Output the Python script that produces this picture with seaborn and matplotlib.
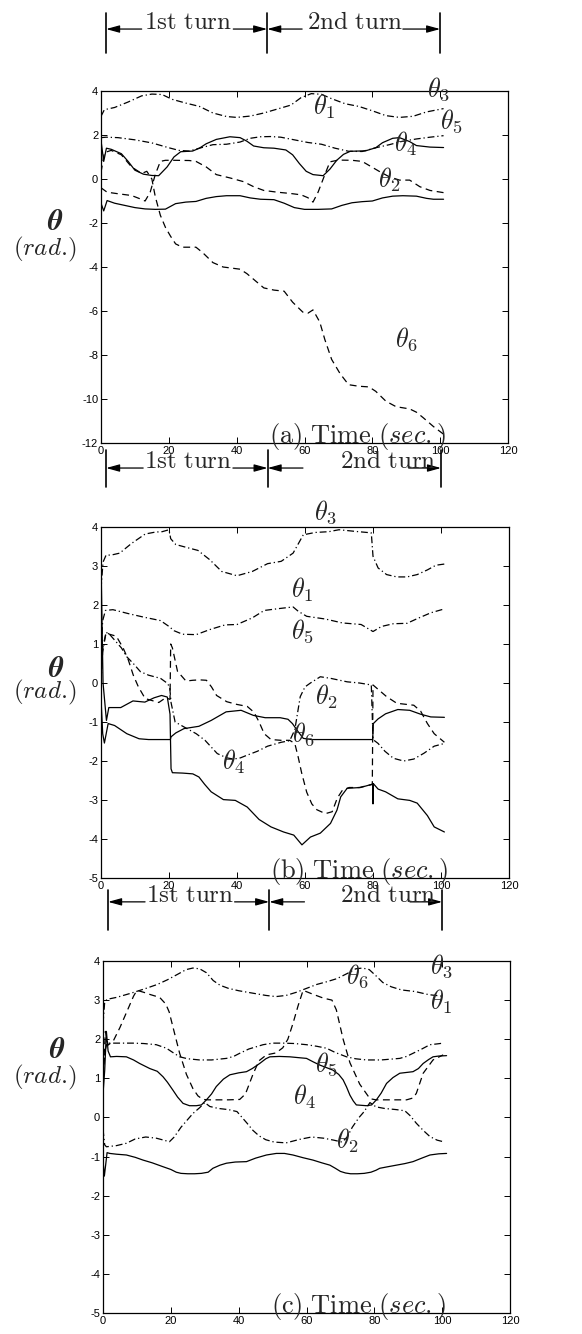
import matplotlib
matplotlib.use("Agg")
import matplotlib.pyplot as plt
from matplotlib.transforms import blended_transform_factory
import numpy as np
import pandas as pd
import seaborn as sns

# ---------------------------------------------------------------- panel (a)
a_t1 = [0, 1, 4, 8, 12, 15, 18, 21, 25, 29, 33, 37, 40, 44, 48, 52, 56, 59, 62, 65, 68, 72, 76, 80, 84, 88, 92, 96, 101]
a_v1 = [2.85, 3.15, 3.25, 3.5, 3.78, 3.86, 3.84, 3.62, 3.45, 3.3, 3.0, 2.84, 2.8, 2.86, 3.0, 3.18, 3.36, 3.7, 3.88,
        3.85, 3.65, 3.42, 3.3, 3.1, 2.88, 2.8, 2.85, 3.05, 3.2]
a_t5 = [0, 1.5, 5, 10, 15, 20, 23, 26, 29, 33, 37, 41, 44, 47, 50, 53, 57, 61, 65, 69, 73, 77, 81, 85, 89, 93, 97, 101]
a_v5 = [1.88, 1.9, 1.88, 1.78, 1.64, 1.42, 1.3, 1.27, 1.4, 1.56, 1.58, 1.68, 1.85, 1.92, 1.93, 1.9, 1.78, 1.66, 1.58,
        1.4, 1.26, 1.25, 1.42, 1.56, 1.72, 1.82, 1.9, 1.97]
a_t4 = [0, 0.8, 1.6, 3, 6, 8, 10, 12.5, 15, 17, 19.5, 21.5, 23.5, 27, 29, 31, 34, 38, 41, 43, 45, 48, 51, 54.5, 56.5,
        58.5, 60.5, 62.5, 65.5, 67.5, 69.5, 71.5, 73.5, 78, 81, 83, 86, 88, 91, 93, 97, 101]
a_v4 = [1.75, 0.8, 1.4, 1.35, 1.15, 0.8, 0.4, 0.22, 0.16, 0.15, 0.55, 1.0, 1.24, 1.27, 1.4, 1.6, 1.8, 1.92, 1.88, 1.72,
        1.5, 1.42, 1.4, 1.32, 1.1, 0.7, 0.35, 0.2, 0.15, 0.45, 0.85, 1.12, 1.26, 1.28, 1.42, 1.65, 1.85, 1.88, 1.7,
        1.52, 1.45, 1.43]
a_t2 = [0, 1.8, 5, 9, 11.5, 13, 14.5, 16, 17.5, 19, 22, 26, 28, 31, 34, 38, 42, 45, 48, 52, 56, 59, 61, 62.5, 64, 66,
        67.5, 70, 74, 77, 79, 82, 85, 88, 91, 94, 97, 101]
a_v2 = [-0.4, -0.6, -0.67, -0.75, -0.9, -1.0, -0.6, 0.2, 0.8, 0.85, 0.85, 0.84, 0.8, 0.55, 0.2, 0.05, -0.12, -0.35,
        -0.52, -0.6, -0.66, -0.72, -0.85, -1.05, -0.6, 0.2, 0.78, 0.86, 0.85, 0.8, 0.62, 0.35, 0.1, -0.05, -0.05,
        -0.35, -0.52, -0.62]
a_t6 = [0, 1, 3, 6, 9, 12, 13.5, 15, 16, 17.5, 19, 20.5, 22, 24, 28, 30, 33, 36, 41, 43, 45, 48, 51, 54, 56.5, 59.5,
        61, 62.5, 64.5, 66, 68, 70.5, 73, 76, 79, 81, 84, 87, 91, 93, 95, 98, 101]
a_v6 = [0.3, 1.2, 1.3, 1.1, 0.55, 0.25, 0.35, 0.0, -0.8, -1.65, -2.2, -2.6, -2.95, -3.1, -3.1, -3.35, -3.8, -4.0,
        -4.1, -4.3, -4.56, -4.95, -5.05, -5.1, -5.6, -6.05, -6.1, -5.95, -6.5, -7.3, -8.2, -8.85, -9.35, -9.42,
        -9.45, -9.65, -10.1, -10.35, -10.45, -10.6, -10.85, -11.25, -11.6]
a_t3 = [0, 0.8, 1.8, 4, 7, 10, 13, 16, 19, 22, 25, 28, 31, 34, 37, 41, 44, 47, 51, 54, 57, 60, 64, 68, 71, 74, 77, 80,
        83, 86, 89, 93, 96, 98, 101]
a_v3 = [-1.1, -1.45, -0.98, -1.1, -1.2, -1.3, -1.36, -1.38, -1.37, -1.12, -1.05, -1.02, -0.88, -0.8, -0.76, -0.76,
        -0.86, -0.92, -0.94, -1.1, -1.3, -1.38, -1.38, -1.36, -1.2, -1.08, -1.03, -1.0, -0.86, -0.78, -0.76, -0.78,
        -0.88, -0.92, -0.92]

# ---------------------------------------------------------------- panel (b)
b_t1 = [0, 0.6, 1.5, 3, 5.5, 9, 13, 16, 18, 20, 20.5, 22, 25, 28.5, 32, 35.5, 40, 44.5, 49, 53, 56.5, 59.5, 63, 67,
        70, 74.5, 79.5, 80, 81.5, 84, 87, 90, 93, 96, 98.5, 101]
b_v1 = [2.4, 3.1, 3.28, 3.28, 3.33, 3.58, 3.82, 3.87, 3.88, 3.93, 3.7, 3.55, 3.48, 3.4, 3.16, 2.86, 2.75, 2.86, 3.06,
        3.12, 3.33, 3.8, 3.86, 3.88, 3.93, 3.89, 3.85, 3.25, 2.95, 2.78, 2.72, 2.72, 2.78, 2.9, 3.02, 3.05]
b_t5 = [0, 0.5, 1.3, 3.5, 8, 12.5, 17.5, 20, 21.5, 24, 28, 32, 36.5, 40, 44.5, 48, 52.5, 56.5, 58, 60.5, 66, 71, 76.5,
        80, 82.5, 86, 90, 93, 97, 101]
b_v5 = [0.9, 1.6, 1.86, 1.88, 1.78, 1.69, 1.6, 1.45, 1.34, 1.25, 1.24, 1.37, 1.49, 1.5, 1.67, 1.86, 1.91, 1.95, 1.84,
        1.71, 1.64, 1.54, 1.5, 1.32, 1.45, 1.52, 1.53, 1.65, 1.8, 1.9]
b_t2 = [0, 0.5, 1.5, 2.5, 4, 6, 7.6, 9.5, 11.6, 14, 17.5, 19.4, 20.2, 20.6, 21.8, 25.3, 28, 30.6, 32.5, 34.2, 37, 39,
        41, 43, 46, 49, 53, 55.5, 57, 58.6, 60, 61.6, 64.5, 67.5, 72.4, 76, 79.5, 80, 81.5, 83.5, 86, 89, 92, 95, 98,
        101]
b_v2 = [0.0, 0.8, 1.3, 1.25, 1.1, 0.9, 0.67, 0.5, 0.29, 0.2, 0.12, 0.0, -0.1, -0.5, -1.0, -1.17, -1.3, -1.47, -1.65,
        -1.81, -1.92, -1.95, -1.92, -1.85, -1.75, -1.62, -1.52, -1.48, -1.2, -0.35, -0.1, 0.0, 0.16, 0.12, 0.03, 0.0,
        -0.05, -1.45, -1.55, -1.75, -1.93, -2.0, -1.95, -1.8, -1.62, -1.55]
b_t6 = [0, 0.5, 1.5, 2.5, 4.5, 6.5, 8, 9.5, 11, 13, 15, 17, 19, 20.3, 20.5, 21, 22.5, 25, 27, 29, 31, 32.5, 34, 37,
        40, 43, 45, 46.5, 48, 50, 53, 55.5, 57, 58, 59, 60.5, 62, 63.5, 66, 68, 69.5, 71, 73, 76, 79.8, 80, 82, 84,
        87, 90, 92, 94, 96, 98, 101]
b_v6 = [0.2, 0.9, 1.3, 1.25, 1.2, 0.9, 0.6, 0.2, -0.1, -0.4, -0.45, -0.5, -0.38, -0.42, 1.0, 0.9, 0.3, 0.05, 0.07,
        0.08, 0.07, -0.1, -0.32, -0.48, -0.55, -0.6, -0.75, -1.0, -1.3, -1.45, -1.47, -1.47, -1.55, -1.9, -2.3, -2.8,
        -3.1, -3.25, -3.35, -3.3, -2.95, -2.75, -2.68, -2.68, -2.6, -0.05, -0.2, -0.35, -0.52, -0.55, -0.57, -0.72,
        -1.04, -1.3, -1.52]
b_t4 = [0, 0.6, 1.6, 2.3, 5.8, 9.4, 12.9, 15.6, 17.8, 19.5, 20.3, 20.6, 21, 24, 27, 28.8, 30.5, 32.4, 36, 39.5, 43,
        46.5, 50, 53.7, 56.7, 59.1, 61.6, 64.5, 67.5, 69.4, 70.5, 72.4, 76.3, 79.6, 79.9, 80.0, 80.1, 81.5, 83.7, 87.3,
        90.8, 93, 96, 98, 101]
b_v4 = [3.1, 0.0, -0.96, -0.63, -0.63, -0.46, -0.49, -0.38, -0.32, -0.36, -0.8, -2.2, -2.3, -2.31, -2.33, -2.41,
        -2.6, -2.79, -2.99, -3.01, -3.18, -3.5, -3.69, -3.82, -3.9, -4.15, -3.95, -3.85, -3.6, -3.26, -2.92, -2.7,
        -2.68, -2.6, -2.58, -3.1, -2.58, -2.72, -2.79, -2.97, -3.01, -3.08, -3.4, -3.69, -3.82]
b_t3 = [0, 0.5, 1.0, 2.1, 4, 7.6, 11.2, 14, 20.4, 20.6, 22, 24.4, 28.8, 32.4, 36.8, 41.2, 44.8, 48.3, 52.7, 55, 56.3,
        58, 59.5, 62, 70, 79.9, 80.1, 81.5, 83.7, 87.3, 90.8, 94, 97, 101]
b_v3 = [-0.4, -1.3, -1.54, -1.04, -1.09, -1.3, -1.43, -1.45, -1.45, -1.38, -1.28, -1.17, -1.11, -0.96, -0.74, -0.7,
        -0.83, -0.89, -0.89, -0.93, -1.04, -1.25, -1.42, -1.45, -1.45, -1.45, -1.04, -0.92, -0.79, -0.68, -0.7, -0.8,
        -0.87, -0.88]

# ---------------------------------------------------------------- panel (c)
c_t1 = [0, 0.5, 1.2, 4, 8, 12, 16, 19, 22, 24.5, 26.5, 28.5, 30.5, 32.5, 34.5, 37, 40, 44, 48, 51, 54, 57, 60, 63, 66,
        69, 72, 74.5, 76.5, 78.5, 80.5, 82.5, 85, 88, 92, 96, 100]
c_v1 = [2.4, 2.95, 3.02, 3.07, 3.17, 3.28, 3.4, 3.52, 3.66, 3.78, 3.82, 3.8, 3.7, 3.5, 3.38, 3.3, 3.24, 3.18, 3.12,
        3.09, 3.12, 3.2, 3.3, 3.4, 3.47, 3.55, 3.68, 3.8, 3.82, 3.78, 3.62, 3.45, 3.34, 3.26, 3.22, 3.14, 3.1]
c_t6 = [0, 0.7, 1.5, 3, 5, 7, 9, 10, 12, 14, 16.7, 18.5, 19.5, 20.6, 22.6, 24.6, 26.5, 28, 29.5, 31, 34, 37, 40.3, 42,
        44.2, 46, 48.2, 51, 53, 54.5, 56, 57.5, 59, 61.9, 65, 67.5, 68.8, 70.8, 72.8, 75.7, 78.7, 80.5, 83, 85.5,
        89.5, 91.5, 92.4, 94.4, 97.3, 100.3]
c_v6 = [1.0, 2.2, 1.85, 1.95, 2.3, 2.7, 3.1, 3.25, 3.2, 3.14, 3.07, 2.9, 2.7, 2.32, 1.64, 1.1, 0.74, 0.55, 0.46, 0.45,
        0.45, 0.45, 0.46, 0.6, 1.1, 1.45, 1.6, 1.65, 1.78, 2.0, 2.4, 2.85, 3.25, 3.15, 3.05, 3.0, 2.75, 2.0, 1.4,
        0.85, 0.48, 0.45, 0.45, 0.45, 0.45, 0.5, 0.62, 1.13, 1.47, 1.6]
c_t5 = [0, 0.6, 1.2, 4, 8.8, 12, 15.7, 18.7, 20.6, 22.6, 25, 28.5, 32, 36.4, 38.5, 40.3, 43, 47.2, 50, 53.1, 56.5, 60,
        63, 65.9, 68.5, 71.8, 74.5, 77.7, 82, 87.5, 89.5, 91.4, 94, 96.4, 98.5, 100.3]
c_v5 = [1.0, 1.7, 1.9, 1.9, 1.9, 1.89, 1.86, 1.77, 1.66, 1.55, 1.5, 1.47, 1.47, 1.51, 1.56, 1.64, 1.75, 1.86, 1.9, 1.9,
        1.89, 1.86, 1.82, 1.77, 1.66, 1.55, 1.5, 1.47, 1.47, 1.51, 1.56, 1.64, 1.75, 1.86, 1.88, 1.9]
c_t4 = [0, 0.5, 1.0, 1.5, 2.2, 4, 6.9, 9, 10.8, 13.8, 16, 17.7, 19, 20.6, 22, 23.6, 25.5, 27.5, 29, 30.5, 32, 33.4,
        35.5, 37.4, 40, 42.3, 44, 46.2, 48, 49.2, 52, 55.1, 57.5, 60, 62, 63.9, 66, 67.8, 69.5, 70.8, 71.8, 72.8, 73.8,
        74.7, 77.7, 79.2, 80.6, 82, 83.6, 85.5, 87.5, 91.4, 93, 94.4, 96, 97.3, 99, 101.3]
c_v4 = [0.6, 1.2, 2.2, 1.7, 1.55, 1.56, 1.55, 1.47, 1.38, 1.25, 1.18, 1.04, 0.9, 0.7, 0.52, 0.36, 0.3, 0.3, 0.32, 0.45,
        0.6, 0.79, 0.98, 1.09, 1.14, 1.17, 1.25, 1.38, 1.5, 1.55, 1.56, 1.55, 1.53, 1.51, 1.42, 1.34, 1.27, 1.21, 1.1,
        0.96, 0.78, 0.57, 0.42, 0.32, 0.3, 0.32, 0.45, 0.62, 0.87, 1.02, 1.13, 1.17, 1.25, 1.38, 1.48, 1.55, 1.57,
        1.58]
c_t2 = [0, 0.5, 1, 4, 6.9, 9.5, 12.6, 15.7, 19.6, 21, 23, 25, 26.5, 28.5, 30, 31.5, 34, 37, 39.5, 41, 42.5, 44.2, 46,
        48, 50.5, 54, 58, 61.5, 65, 68, 70.5, 72, 73.5, 75.5, 77, 78.7, 80.5, 83, 86.5, 89, 90.5, 92.4, 94.4, 96.4,
        98.5, 100.3]
c_v2 = [-0.3, -0.7, -0.75, -0.72, -0.66, -0.55, -0.5, -0.53, -0.62, -0.5, -0.25, -0.05, 0.1, 0.25, 0.38, 0.28, 0.23,
        0.2, 0.15, 0.0, -0.15, -0.33, -0.47, -0.57, -0.63, -0.65, -0.56, -0.5, -0.53, -0.58, -0.63, -0.5, -0.25,
        0.0, 0.15, 0.38, 0.27, 0.23, 0.2, 0.17, 0.05, -0.15, -0.33, -0.49, -0.58, -0.62]
c_t3 = [0, 0.4, 0.8, 1.2, 2, 4, 6.9, 9.5, 11.8, 14.5, 17.7, 20, 21.6, 23, 25, 27, 29, 31, 32.4, 34.5, 36.4, 39, 42.3,
        45, 48.2, 51.1, 53.5, 56, 59, 61.9, 64.5, 66.9, 68.5, 70, 71.5, 73, 75, 77, 79, 80.5, 81.6, 84, 86.5, 89,
        91.4, 94, 96.4, 99, 101.3]
c_v3 = [-1.1, -1.5, -1.2, -0.9, -0.92, -0.94, -0.96, -1.02, -1.09, -1.16, -1.26, -1.33, -1.4, -1.43, -1.44, -1.44,
        -1.43, -1.4, -1.3, -1.22, -1.17, -1.14, -1.13, -1.04, -0.96, -0.92, -0.92, -0.96, -1.03, -1.09, -1.16, -1.22,
        -1.3, -1.38, -1.42, -1.44, -1.44, -1.43, -1.4, -1.35, -1.3, -1.26, -1.22, -1.18, -1.13, -1.04, -0.96, -0.93,
        -0.92]

# joint label anchor points (time, angle) for each panel
a_label_pos = {r"$\theta_3$": (99.6, 4.09), r"$\theta_1$": (65.7, 3.27), r"$\theta_5$": (103.2, 2.64),
               r"$\theta_4$": (89.9, 1.59), r"$\theta_2$": (84.9, -0.05), r"$\theta_6$": (89.9, -7.27)}
b_label_pos = {r"$\theta_3$": (65.9, 4.38), r"$\theta_1$": (59.1, 2.38), r"$\theta_5$": (59.1, 1.32),
               r"$\theta_2$": (66.2, -0.35), r"$\theta_6$": (59.4, -1.31), r"$\theta_4$": (39.1, -2.03)}
c_label_pos = {r"$\theta_3$": (99.7, 3.87), r"$\theta_6$": (74.9, 3.62), r"$\theta_1$": (99.7, 2.95),
               r"$\theta_5$": (65.8, 1.37), r"$\theta_4$": (59.3, 0.52), r"$\theta_2$": (72.1, -0.6)}

x_ticks = [0, 20, 40, 60, 80, 100, 120]
turn_bounds = [1.5, 49, 100]

SOLID = ""
DASHED = (5.5, 3.6)
DASHDOT = (5.5, 2.3, 1.0, 2.3)

sns.set_style("ticks")
plt.rcParams.update({
    "font.family": ["Liberation Sans", "DejaVu Sans"],
    "mathtext.fontset": "cm",
    "axes.unicode_minus": False,
    "xtick.direction": "in",
    "ytick.direction": "in",
    "xtick.top": True,
    "ytick.right": True,
    "xtick.major.size": 4,
    "ytick.major.size": 4,
    "xtick.major.width": 0.7,
    "ytick.major.width": 0.7,
    "axes.linewidth": 0.9,
    "axes.edgecolor": "black",
    "xtick.color": "black",
    "ytick.color": "black",
    "xtick.labelsize": 8,
    "ytick.labelsize": 8,
})


def long_frame(series):
    parts = [pd.DataFrame({"time": t, "angle": v, "joint": name}) for name, t, v in series]
    return pd.concat(parts, ignore_index=True)


def draw_panel(ax, series, styles, ylim, yticks, labels, caption, cap_x):
    df = long_frame(series)
    sns.lineplot(data=df, x="time", y="angle", style="joint", dashes=styles,
                 color="black", linewidth=0.9, estimator=None, sort=False,
                 legend=False, ax=ax)
    ax.set_xlim(0, 120)
    ax.set_ylim(*ylim)
    ax.set_xticks(x_ticks)
    ax.set_yticks(yticks)
    ax.set_xlabel("")
    ax.set_ylabel("")
    ax.tick_params(pad=2)
    for txt, (tx, ty) in labels.items():
        ax.text(tx, ty, txt, fontsize=19, ha="center", va="center", clip_on=False)
    ax.text(cap_x, 0.0, caption, transform=ax.transAxes, fontsize=19,
            ha="center", va="baseline")


def draw_turns(ax, y_lo, y_hi, y_arr, first_seg, second_seg, first_x, second_x):
    tr = blended_transform_factory(ax.transData, ax.transAxes)
    for b in turn_bounds:
        ax.plot([b, b], [y_lo, y_hi], transform=tr, color="black", lw=1.2, clip_on=False)
    arrow = dict(arrowstyle="-|>,head_length=0.8,head_width=0.22", color="black",
                 lw=0.9, shrinkA=0, shrinkB=0, mutation_scale=10)
    segs = [(first_seg[0], turn_bounds[0]), (first_seg[1], turn_bounds[1]),
            (second_seg[0], turn_bounds[1]), (second_seg[1], turn_bounds[2])]
    for start, end in segs:
        ax.annotate("", xy=(end, y_arr), xytext=(start, y_arr), xycoords=tr,
                    textcoords=tr, arrowprops=arrow, annotation_clip=False)
    ax.text(first_x, y_arr, r"$\mathrm{1st\ turn}$", transform=tr, fontsize=18,
            ha="center", va="baseline")
    ax.text(second_x, y_arr, r"$\mathrm{2nd\ turn}$", transform=tr, fontsize=18,
            ha="center", va="baseline")


W, H = 582, 1334
fig = plt.figure(figsize=(W / 100, H / 100), dpi=100)


def add_axes_px(left, top, right, bottom):
    return fig.add_axes([left / W, 1 - bottom / H, (right - left) / W, (bottom - top) / H])


ax_a = add_axes_px(101, 91, 508, 443)
ax_b = add_axes_px(101, 527, 509, 878)
ax_c = add_axes_px(103, 961, 510, 1313)

draw_panel(ax_a,
           [("theta1", a_t1, a_v1), ("theta5", a_t5, a_v5), ("theta4", a_t4, a_v4),
            ("theta2", a_t2, a_v2), ("theta6", a_t6, a_v6), ("theta3", a_t3, a_v3)],
           {"theta1": DASHDOT, "theta5": DASHDOT, "theta4": SOLID, "theta2": DASHED,
            "theta6": DASHED, "theta3": SOLID},
           (-12, 4), list(range(-12, 5, 2)), a_label_pos,
           r"$\mathrm{(a)\ Time\ }(sec.)$", 0.63)

draw_panel(ax_b,
           [("theta1", b_t1, b_v1), ("theta5", b_t5, b_v5), ("theta2", b_t2, b_v2),
            ("theta6", b_t6, b_v6), ("theta4", b_t4, b_v4), ("theta3", b_t3, b_v3)],
           {"theta1": DASHDOT, "theta5": DASHDOT, "theta2": DASHDOT, "theta6": DASHED,
            "theta4": SOLID, "theta3": SOLID},
           (-5, 4), list(range(-5, 5)), b_label_pos,
           r"$\mathrm{(b)\ Time\ }(sec.)$", 0.632)

draw_panel(ax_c,
           [("theta1", c_t1, c_v1), ("theta6", c_t6, c_v6), ("theta5", c_t5, c_v5),
            ("theta4", c_t4, c_v4), ("theta2", c_t2, c_v2), ("theta3", c_t3, c_v3)],
           {"theta1": DASHDOT, "theta6": DASHED, "theta5": DASHDOT, "theta4": SOLID,
            "theta2": DASHDOT, "theta3": SOLID},
           (-5, 4), list(range(-5, 5)), c_label_pos,
           r"$\mathrm{(c)\ Time\ }(sec.)$", 0.628)

# turn markers above each panel
draw_turns(ax_a, 1.108, 1.222, 1.176, (12, 39), (59.3, 89), 25.7, 75)
draw_turns(ax_b, 1.114, 1.219, 1.168, (12.4, 38.8), (59.4, 90.5), 25.7, 84.4)
draw_turns(ax_c, 1.088, 1.202, 1.168, (12.4, 38.8), (59.4, 90.5), 25.7, 84.0)

# vertical axis titles
for (tx, ty), (rx, ry) in [((55, 222), (45, 249)), ((56, 669), (45, 692)), ((57, 1050), (45, 1077))]:
    fig.text(tx / W, 1 - ty / H, r"$\boldsymbol{\theta}$", math_fontfamily="stix",
             fontsize=21, ha="center", va="center")
    fig.text(rx / W, 1 - ry / H, r"$(rad.\!)$", fontsize=18, ha="center", va="center")

fig.savefig("out.png", dpi=100)
